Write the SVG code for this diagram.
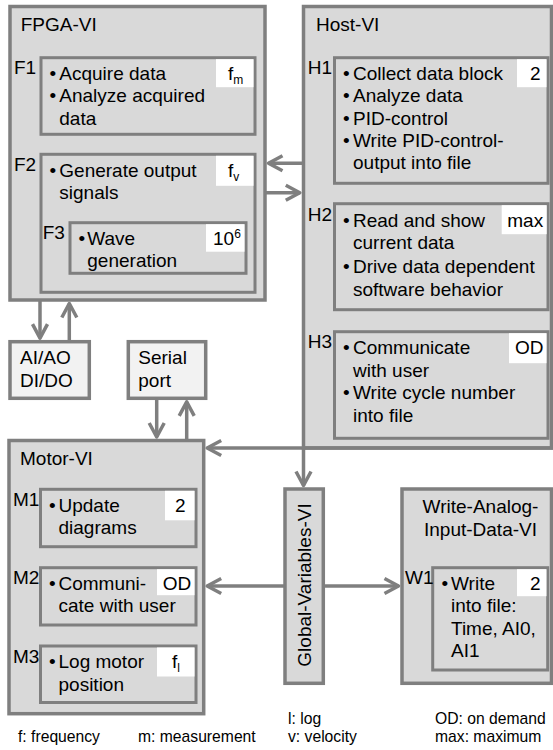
<svg xmlns="http://www.w3.org/2000/svg" width="553" height="750" viewBox="0 0 553 750">
<style>
.ob{fill:#d9d9d9;stroke:#7f7f7f;stroke-width:3.5}
.ib{fill:#d9d9d9;stroke:#7f7f7f;stroke-width:3}
.lb{fill:#f2f2f2;stroke:#7f7f7f;stroke-width:3.5}
.wb{fill:#ffffff;stroke:none}
text{font-family:"Liberation Sans",Arial,sans-serif;font-size:19px;fill:#000}
.ft{font-size:15.7px}
.sub{font-size:12px}
.conn{fill:none;stroke:#7f7f7f;stroke-width:3.5}
</style>
<defs>
<marker id="ah" viewBox="0 0 20 20" refX="16" refY="10" markerWidth="20" markerHeight="20" markerUnits="userSpaceOnUse" orient="auto" overflow="visible">
<path d="M2,2.5 L16,10 L2,17.5" fill="none" stroke="#7f7f7f" stroke-width="3.5" stroke-linejoin="round"/>
</marker>
</defs>

<g id="fpga">
<rect class="ob" x="10" y="6.5" width="255" height="293.5"/>
<text x="20.7" y="31">FPGA-VI</text>
<g id="f1">
<rect class="ib" x="41" y="57.7" width="214" height="76.6"/>
<rect class="wb" x="216" y="59.2" width="37.5" height="28"/>
<text x="228" y="80">f<tspan class="sub" dy="4">m</tspan></text>
<text x="14" y="74.3">F1</text>
<text><tspan x="49.5" y="80">•</tspan><tspan x="59.3">Acquire data</tspan><tspan x="49.5" y="102.3">•</tspan><tspan x="59.3">Analyze acquired</tspan><tspan x="59.3" y="124.6">data</tspan></text>
</g>
<g id="f2">
<rect class="ib" x="41" y="154.3" width="214" height="138"/>
<rect class="wb" x="216" y="155.8" width="37.5" height="30"/>
<text x="228" y="176.6">f<tspan class="sub" dy="4">v</tspan></text>
<text x="14" y="171">F2</text>
<text><tspan x="49.5" y="176.6">•</tspan><tspan x="59.3">Generate output</tspan><tspan x="59.3" y="198.9">signals</tspan></text>
</g>
<g id="f3">
<rect class="ib" x="70" y="222.7" width="176" height="50.6"/>
<rect class="wb" x="206" y="224.2" width="38.5" height="27.5"/>
<text x="213" y="245">10<tspan class="sub" dy="-7">6</tspan></text>
<text x="42.7" y="239.3">F3</text>
<text><tspan x="78.5" y="245">•</tspan><tspan x="87.3">Wave</tspan><tspan x="87.3" y="267.3">generation</tspan></text>
</g>
</g>

<g id="host">
<rect class="ob" x="303.5" y="6.5" width="248" height="441.5"/>
<text x="316" y="31">Host-VI</text>
<g id="h1">
<rect class="ib" x="334.5" y="57.7" width="213.5" height="125.6"/>
<rect class="wb" x="517" y="59.2" width="29.5" height="28"/>
<text x="530" y="80">2</text>
<text x="307.7" y="74.3">H1</text>
<text><tspan x="343" y="80">•</tspan><tspan x="353">Collect data block</tspan><tspan x="343" y="102.3">•</tspan><tspan x="353">Analyze data</tspan><tspan x="343" y="124.6">•</tspan><tspan x="353">PID-control</tspan><tspan x="343" y="146.9">•</tspan><tspan x="353">Write PID-control-</tspan><tspan x="353" y="169.2">output into file</tspan></text>
</g>
<g id="h2">
<rect class="ib" x="334.5" y="203.7" width="213.5" height="106"/>
<rect class="wb" x="501.7" y="205.2" width="45" height="29"/>
<text x="507.3" y="226.7">max</text>
<text x="307.7" y="221">H2</text>
<text><tspan x="343" y="226.7">•</tspan><tspan x="353">Read and show</tspan><tspan x="353" y="249.3">current data</tspan><tspan x="343" y="272.7">•</tspan><tspan x="353">Drive data dependent</tspan><tspan x="353" y="296">software behavior</tspan></text>
</g>
<g id="h3">
<rect class="ib" x="334.5" y="331.7" width="213.5" height="106.6"/>
<rect class="wb" x="509" y="333.2" width="37.5" height="30"/>
<text x="515" y="354">OD</text>
<text x="307.7" y="348.3">H3</text>
<text><tspan x="343" y="354">•</tspan><tspan x="353">Communicate</tspan><tspan x="353" y="376.7">with user</tspan><tspan x="343" y="399.4">•</tspan><tspan x="353">Write cycle number</tspan><tspan x="353" y="422">into file</tspan></text>
</g>
</g>

<g id="aio">
<rect class="lb" x="10" y="341.7" width="79.3" height="56.6"/>
<text x="20" y="364">AI/AO</text>
<text x="20" y="386.7">DI/DO</text>
</g>

<g id="serial">
<rect class="lb" x="128.3" y="341.7" width="77.4" height="56.6"/>
<text x="138.3" y="364">Serial</text>
<text x="138.3" y="386.7">port</text>
</g>

<g id="motor">
<rect class="ob" x="9" y="440.5" width="194.7" height="273.2"/>
<text x="20" y="464.5">Motor-VI</text>
<g id="m1">
<rect class="ib" x="40.5" y="489.3" width="155.5" height="57.4"/>
<rect class="wb" x="165" y="490.8" width="29.5" height="29.5"/>
<text x="175" y="511.6">2</text>
<text x="13" y="506">M1</text>
<text><tspan x="49" y="511.6">•</tspan><tspan x="58.5">Update</tspan><tspan x="58.5" y="534">diagrams</tspan></text>
</g>
<g id="m2">
<rect class="ib" x="40.5" y="567.7" width="155.5" height="57.3"/>
<rect class="wb" x="157" y="569.2" width="37.5" height="26"/>
<text x="162.7" y="590">OD</text>
<text x="13" y="584.3">M2</text>
<text><tspan x="49" y="590">•</tspan><tspan x="58.5">Communi-</tspan><tspan x="58.5" y="612.3">cate with user</tspan></text>
</g>
<g id="m3">
<rect class="ib" x="40.5" y="646" width="155.5" height="56.5"/>
<rect class="wb" x="157" y="647.5" width="37.5" height="29"/>
<text x="172" y="668.3">f<tspan class="sub" dy="4">l</tspan></text>
<text x="13" y="662.6">M3</text>
<text><tspan x="49" y="668.3">•</tspan><tspan x="58.5">Log motor</tspan><tspan x="58.5" y="690.6">position</tspan></text>
</g>
</g>

<g id="global">
<rect class="ob" x="285" y="489" width="38.3" height="194.3"/>
<text transform="translate(310.5,585) rotate(-90)" text-anchor="middle">Global-Variables-VI</text>
</g>

<g id="write">
<rect class="ob" x="402" y="489" width="149.5" height="194.3"/>
<text x="480.5" y="512.7" text-anchor="middle">Write-Analog-</text>
<text x="480.5" y="536" text-anchor="middle">Input-Data-VI</text>
<g id="w1">
<rect class="ib" x="432.7" y="567.7" width="115" height="102.3"/>
<rect class="wb" x="517" y="569.2" width="29.5" height="27"/>
<text x="530" y="590">2</text>
<text x="405" y="584.3">W1</text>
<text><tspan x="441.5" y="590">•</tspan><tspan x="451">Write</tspan><tspan x="451" y="612.3">into file:</tspan><tspan x="451" y="634.6">Time, AI0,</tspan><tspan x="451" y="657">AI1</tspan></text>
</g>
</g>

<g id="connectors">
<path class="conn" d="M303.5,163.3 H268.5" marker-end="url(#ah)"/>
<path class="conn" d="M265,192.7 H299.8" marker-end="url(#ah)"/>
<path class="conn" d="M40,300 V338.2" marker-end="url(#ah)"/>
<path class="conn" d="M69.3,341.7 V303.5" marker-end="url(#ah)"/>
<path class="conn" d="M156.7,398.3 V437" marker-end="url(#ah)"/>
<path class="conn" d="M186.7,440.5 V401.8" marker-end="url(#ah)"/>
<path class="conn" d="M553,448 H207.2" marker-end="url(#ah)"/>
<path class="conn" d="M303.5,448 V485.5" marker-end="url(#ah)"/>
<path class="conn" d="M285,586 H207.2" marker-end="url(#ah)"/>
<path class="conn" d="M323.3,586 H398.5" marker-end="url(#ah)"/>
</g>

<g id="legend">
<text class="ft" x="18" y="742">f: frequency</text>
<text class="ft" x="138" y="742">m: measurement</text>
<text class="ft" x="288" y="724">l: log</text>
<text class="ft" x="288" y="742">v: velocity</text>
<text class="ft" x="435" y="724">OD: on demand</text>
<text class="ft" x="435" y="742">max: maximum</text>
</g>
</svg>
